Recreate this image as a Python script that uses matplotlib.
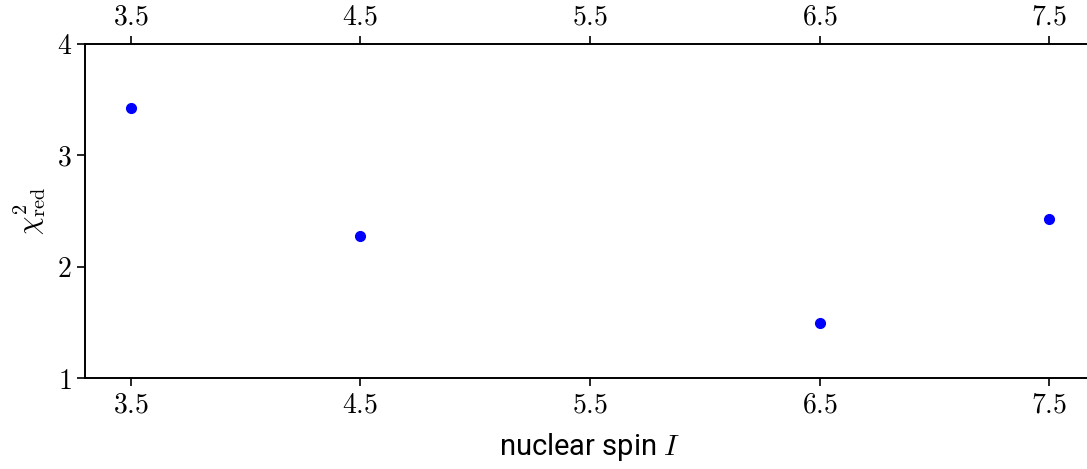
import matplotlib
matplotlib.use('Agg')
import matplotlib.pyplot as plt

spin = [3.5, 4.5, 6.5, 7.5]
chi2_red = [3.425, 2.275, 1.493, 2.428]
x_ticks = [3.5, 4.5, 5.5, 6.5, 7.5]
y_ticks = [1, 2, 3, 4]

plt.rcParams['font.family'] = ['Roboto', 'DejaVu Sans']
plt.rcParams['mathtext.fontset'] = 'cm'


def main():
    fig = plt.figure(figsize=(10.87, 4.69), dpi=100)
    # axes runs a little past the right edge of the figure, like the original
    ax = fig.add_axes([85 / 1087, 91 / 469, 1010 / 1087, 334 / 469])

    ax.plot(spin, chi2_red, 'o', color='blue', markersize=7)

    ax.set_xlim(3.3, 7.7)
    ax.set_ylim(1, 4)
    ax.set_xticks(x_ticks)
    ax.set_xticklabels([f'${v}$' for v in x_ticks])
    ax.set_yticks(y_ticks)
    ax.set_yticklabels([f'${v}$' for v in y_ticks])

    ax.spines['right'].set_visible(False)
    for s in ['left', 'top', 'bottom']:
        ax.spines[s].set_linewidth(1.4)
    ax.tick_params(top=True, labeltop=True, labelsize=20, length=6, width=1.2)

    ax.set_xlabel('nuclear spin $I$', fontsize=21, labelpad=9)
    ax.set_ylabel(r'$\chi^2_{\mathrm{red}}$', fontsize=21, labelpad=6)

    fig.savefig('out.png', dpi=100)


if __name__ == "__main__":
    main()
